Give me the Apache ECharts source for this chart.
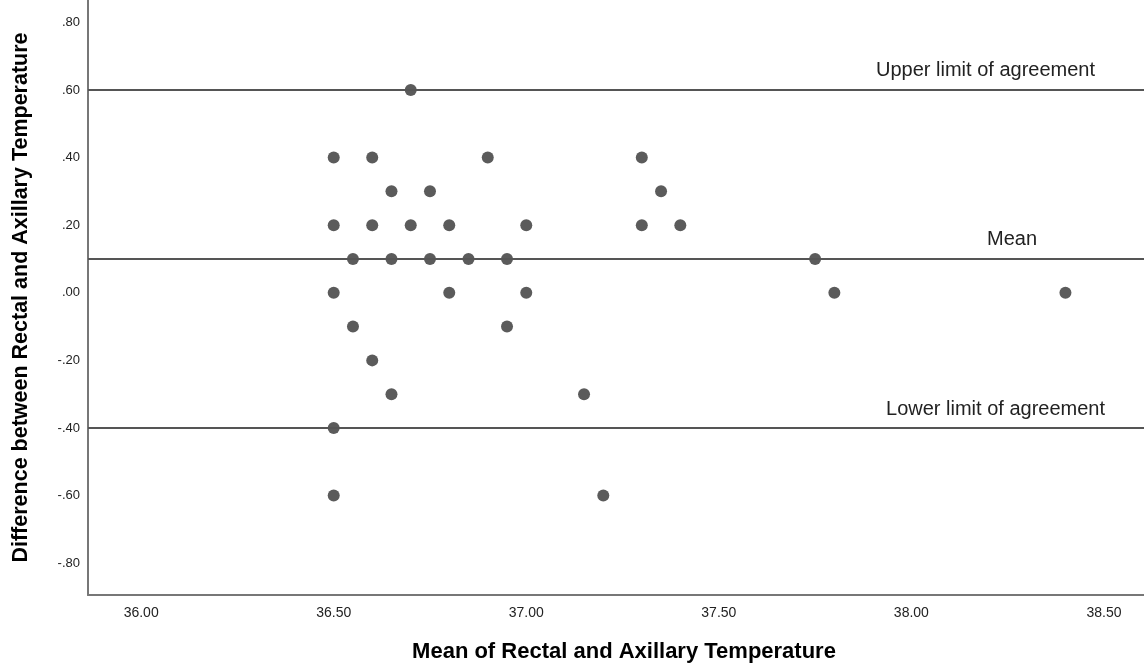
<!DOCTYPE html>
<html>
<head>
<meta charset="utf-8">
<script src="https://cdn.jsdelivr.net/npm/echarts@6/dist/echarts.min.js"></script>
<style>
  html, body { margin: 0; padding: 0; background: #fff; }
  #chart { width: 1144px; height: 664px; }
</style>
</head>
<body>
<div id="chart"></div>
<script>
  // mean of rectal and axillary temperature vs difference
  const meanTemp = [
    36.70,
    36.50, 36.60, 36.90, 37.30,
    36.65, 36.75, 37.35,
    36.50, 36.60, 36.70, 36.80, 37.00, 37.30, 37.40,
    36.55, 36.65, 36.75, 36.85, 36.95, 37.75,
    36.50, 36.80, 37.00, 37.80, 38.40,
    36.55, 36.95,
    36.60,
    36.65, 37.15,
    36.50,
    36.50, 37.20
  ];
  const diffTemp = [
    0.60,
    0.40, 0.40, 0.40, 0.40,
    0.30, 0.30, 0.30,
    0.20, 0.20, 0.20, 0.20, 0.20, 0.20, 0.20,
    0.10, 0.10, 0.10, 0.10, 0.10, 0.10,
    0.00, 0.00, 0.00, 0.00, 0.00,
    -0.10, -0.10,
    -0.20,
    -0.30, -0.30,
    -0.40,
    -0.60, -0.60
  ];
  const xTicks = [36.0, 36.5, 37.0, 37.5, 38.0, 38.5];
  const yTicks = [-0.8, -0.6, -0.4, -0.2, 0.0, 0.2, 0.4, 0.6, 0.8];
  const refLines = [0.6, 0.1, -0.4];
  const refNames = ['Upper limit of agreement', 'Mean', 'Lower limit of agreement'];
  const refOffsets = [-44, -102, -34];

  const points = meanTemp.map((m, i) => [m, diffTemp[i]]);
  const fmtY = v => {
    let s = Math.abs(v).toFixed(2).replace(/^0/, '');
    return (v < -1e-9 ? '-' : '') + s;
  };

  let chart = echarts.init(document.getElementById('chart'));
  chart.setOption({
    animation: false,
    textStyle: { fontFamily: 'Arial, "Liberation Sans", sans-serif' },
    grid: { left: 88, right: 0, top: 0, bottom: 69, outerBoundsMode: 'none', containLabel: false },
    xAxis: {
      type: 'value',
      min: 35.862,
      max: 38.604,
      name: 'Mean of Rectal and Axillary Temperature',
      nameLocation: 'middle',
      nameGap: 46,
      nameTextStyle: { fontSize: 22, fontWeight: 'bold', color: '#000', padding: [0, 0, 0, 16] },
      axisLine: { show: true, onZero: false, lineStyle: { color: '#777', width: 2 } },
      axisTick: { show: false },
      splitLine: { show: false },
      axisLabel: {
        customValues: xTicks,
        color: '#222',
        fontSize: 14,
        margin: 11,
        formatter: v => v.toFixed(2)
      }
    },
    yAxis: {
      type: 'value',
      min: -0.894,
      max: 0.866,
      name: 'Difference between Rectal and Axillary Temperature',
      nameLocation: 'middle',
      nameGap: 56,
      nameTextStyle: { fontSize: 21.5, fontWeight: 'bold', color: '#000' },
      axisLine: { show: true, onZero: false, lineStyle: { color: '#777', width: 2 } },
      axisTick: { show: false },
      splitLine: { show: false },
      axisLabel: {
        customValues: yTicks,
        color: '#222',
        fontSize: 13,
        margin: 8,
        formatter: fmtY
      }
    },
    series: [{
      type: 'scatter',
      data: points,
      symbolSize: 12,
      itemStyle: { color: '#5b5b5b', opacity: 1 },
      markLine: {
        silent: true,
        symbol: 'none',
        lineStyle: { color: '#555', width: 2, type: 'solid' },
        data: refLines.map((v, i) => ({
          yAxis: v,
          label: {
            show: true,
            formatter: refNames[i],
            position: 'insideEndTop',
            offset: [refOffsets[i], -4],
            color: '#222',
            fontSize: 20
          }
        }))
      }
    }]
  });
</script>
</body>
</html>
